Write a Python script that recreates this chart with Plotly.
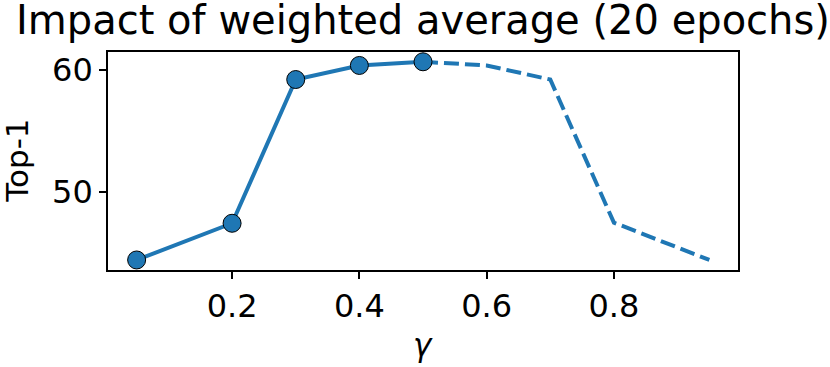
import plotly.graph_objects as go

# measured part (solid, with markers)
gamma_measured = [0.05, 0.2, 0.3, 0.4, 0.5]
top1_measured = [44.45, 47.45, 59.2, 60.35, 60.65]

# mirrored part (dashed)
gamma_mirror = [0.5, 0.6, 0.7, 0.8, 0.95]
top1_mirror = [60.65, 60.35, 59.2, 47.5, 44.45]

x_ticks = [0.2, 0.4, 0.6, 0.8]
y_ticks = [50, 60]

blue = '#1f77b4'
font = 'DejaVu Sans'

fig = go.Figure()
fig.add_trace(go.Scatter(
    x=gamma_mirror, y=top1_mirror,
    mode='lines',
    line=dict(color=blue, width=4, dash='15px,6px'),
    showlegend=False
))
fig.add_trace(go.Scatter(
    x=gamma_measured, y=top1_measured,
    mode='lines+markers',
    line=dict(color=blue, width=4),
    marker=dict(size=18, color=blue, line=dict(color='black', width=1)),
    showlegend=False
))

axis_style = dict(
    showline=True, linecolor='black', linewidth=1.6, mirror=True,
    showgrid=False, zeroline=False, automargin=False,
    ticks='outside', ticklen=7, tickwidth=1.6, tickcolor='black',
    tickfont=dict(family=font, size=32, color='black'),
)

fig.update_xaxes(range=[0.005, 0.995], tickvals=x_ticks,
                 ticktext=[f'{v:.1f}' for v in x_ticks],
                 **axis_style)
fig.update_yaxes(range=[43.63, 61.45], tickvals=y_ticks, **axis_style)

label_font = dict(family=font, size=31, color='black')
fig.add_annotation(text='<i>γ</i>', x=0.5, y=-0.345, xref='paper', yref='paper',
                   yanchor='middle', showarrow=False, font=label_font)
fig.add_annotation(text='Top-1', x=-0.145, y=0.5, xref='paper', yref='paper',
                   xanchor='center', textangle=-90, showarrow=False, font=label_font)

fig.update_layout(
    width=830, height=367,
    margin=dict(l=108, r=92, t=52, b=97),
    plot_bgcolor='white', paper_bgcolor='white',
    title=dict(text='Impact of weighted average (20 epochs)',
               font=dict(family=font, size=40, color='black'),
               x=0.5, xref='paper', xanchor='center',
               y=1 - 20 / 367, yref='container', yanchor='middle'),
)

# the page body has a default 8px margin; drop it so the figure sits at 0,0
fig.write_html('out.html', config={'displayModeBar': False},
               post_script="document.body.style.margin='0';")
